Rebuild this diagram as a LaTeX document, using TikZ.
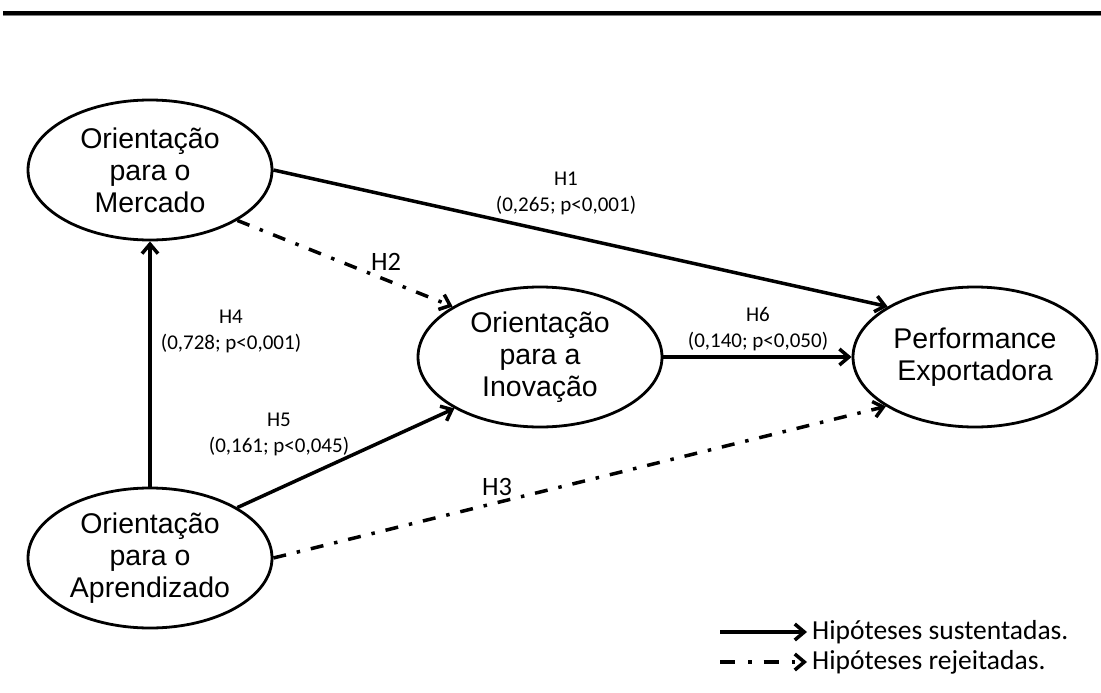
\documentclass[tikz,border=0pt]{standalone}
\usepackage{fontspec}
\setmainfont{Liberation Sans}
\newfontfamily\calib{Carlito}
\usetikzlibrary{arrows.meta,shapes.geometric}
\begin{document}
\begin{tikzpicture}[x=1pt,y=-1pt,
  construct/.style={ellipse,draw,line width=2.8pt,minimum width=244pt,minimum height=140pt,
    inner sep=0pt,align=center,font=\fontsize{28.5}{32}\selectfont},
  tip/.style={-{Straight Barb[length=9.5pt,width=16pt]}},
  supported/.style={tip,line width=3.5pt},
  rejected/.style={tip,line width=3.5pt,dash pattern=on 13pt off 11pt on 3.5pt off 11pt},
  coef/.style={align=center,font=\calib\fontsize{21}{26}\selectfont,inner sep=0pt},
  hname/.style={font=\calib\fontsize{26.5}{30}\selectfont,inner sep=0pt},
  legtext/.style={anchor=west,font=\calib\fontsize{27.5}{30}\selectfont,inner sep=0pt}]
\useasboundingbox (0,0) rectangle (1101,693);

% header rule
\fill (3,11) rectangle (1101,15);
\draw[gray,line width=1.2pt] (3,15.6) -- (1101,15.6);

% constructs
\node[construct] (om) at (150,170) {Orientação\\para o\\Mercado};
\node[construct] (oa) at (150,558) {Orientação\\para o\\Aprendizado};
\node[construct] (oi) at (540,357) {Orientação\\para a\\Inovação};
\node[construct] (pe) at (975,357) {Performance\\Exportadora};

% hypotheses
\draw[supported] (om.east) -- (pe.150);
\draw[rejected] (om.-30) -- (oi.150);
\draw[supported] (oa.north) -- (om.south);
\draw[supported] (oa.30) -- (oi.211);
\draw[supported] (oi.east) -- (pe.west);
\draw[rejected] (oa.east) -- (pe.209);

% path labels
\node[coef] (l1) at (566,193) {H1\\(0,265; p<0,001)};
\node[coef] (l4) at (231,331) {H4\\(0,728; p<0,001)};
\node[coef] (l5) at (279,434) {H5\\(0,161; p<0,045)};
\node[coef] (l6) at (758,329) {H6\\(0,140; p<0,050)};
\node[hname] (l2) at (386,262) {H2};
\node[hname] (l3) at (497,487) {H3};

% legend
\coordinate (s0) at (720,632);
\coordinate (s1) at (807,632);
\coordinate (r0) at (720,662);
\coordinate (r1) at (807,662);
\draw[supported] (s0) -- (s1);
\draw[tip,line width=3.5pt,dash pattern=on 15pt off 13pt on 3.5pt off 12pt] (r0) -- (r1);
\node[legtext] (t1) at (812,632) {Hipóteses sustentadas.};
\node[legtext] (t2) at (812,662) {Hipóteses rejeitadas.};
\end{tikzpicture}
\end{document}
